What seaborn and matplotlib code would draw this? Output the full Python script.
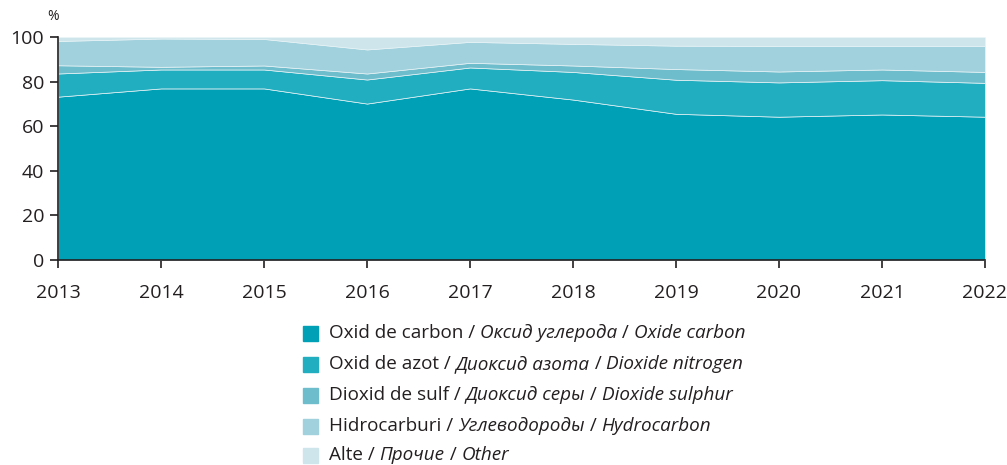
import matplotlib
matplotlib.use("Agg")
import matplotlib.pyplot as plt
import seaborn as sns

years = [2013, 2014, 2015, 2016, 2017, 2018, 2019, 2020, 2021, 2022]
carbon = [73.3, 77.0, 77.0, 70.2, 77.0, 72.0, 65.6, 64.3, 65.3, 64.3]
nitrogen = [10.4, 8.5, 8.5, 10.8, 9.4, 12.4, 15.3, 15.4, 15.4, 15.2]
sulphur = [3.7, 1.2, 1.8, 2.7, 2.1, 2.9, 4.8, 4.9, 4.8, 4.9]
hydrocarbon = [10.9, 12.7, 11.9, 10.8, 9.4, 9.7, 10.5, 11.5, 10.6, 11.7]
other = [1.7, 0.6, 0.8, 5.5, 2.1, 3.0, 3.8, 3.9, 3.9, 3.9]

labels = [
    ("Oxid de carbon / ", "Оксид углерода", " / ", "Oxide carbon"),
    ("Oxid de azot / ", "Диоксид азота", " / ", "Dioxide nitrogen"),
    ("Dioxid de sulf / ", "Диоксид серы", " / ", "Dioxide sulphur"),
    ("Hidrocarburi / ", "Углеводороды", " / ", "Hydrocarbon"),
    ("Alte / ", "Прочие", " / ", "Other"),
]
colors = ["#00a0b6", "#22aec1", "#6ebdcc", "#a1d1dd", "#cde5eb"]

sns.set_style("ticks")
plt.rcParams["font.family"] = ["Open Sans", "DejaVu Sans"]
plt.rcParams["text.color"] = "#231f20"

fig = plt.figure(figsize=(10.07, 4.65), dpi=100)
ax = fig.add_axes([0.0576, 0.441, 0.9205, 0.479])

ax.stackplot(years, carbon, nitrogen, sulphur, hydrocarbon, other,
             colors=colors, edgecolor="#e6f3f6", linewidth=0.5)

ax.set_xlim(2013, 2022)
ax.set_ylim(0, 100)
ax.set_xticks(years)
ax.set_yticks([0, 20, 40, 60, 80, 100])
ax.tick_params(axis="both", labelsize=14, length=6, width=1.2,
               color="#231f20", labelcolor="#231f20", direction="out")
ax.tick_params(axis="x", pad=11)
ax.tick_params(axis="y", pad=4)
for s in ["left", "bottom"]:
    ax.spines[s].set_linewidth(1.2)
    ax.spines[s].set_color("#231f20")
sns.despine(ax=ax)

fig.text(0.047, 0.965, "%", fontsize=10, ha="left", va="center")

# legend with mixed upright / italic text
fig.canvas.draw()
renderer = fig.canvas.get_renderer()
rows_y = [333, 364, 395, 426, 455]
for i, (parts, c) in enumerate(zip(labels, colors)):
    yf = 1 - rows_y[i] / 465
    fig.patches.append(plt.Rectangle((303 / 1007, yf - 8 / 465), 15 / 1007, 15 / 465,
                                     transform=fig.transFigure, color=c))
    x = 329
    for j, p in enumerate(parts):
        t = fig.text(x / 1007, yf, p, fontsize=13.6, va="center", ha="left",
                     style="italic" if j % 2 == 1 else "normal")
        bb = t.get_window_extent(renderer)
        x += bb.width

fig.savefig("out.png", dpi=100)
